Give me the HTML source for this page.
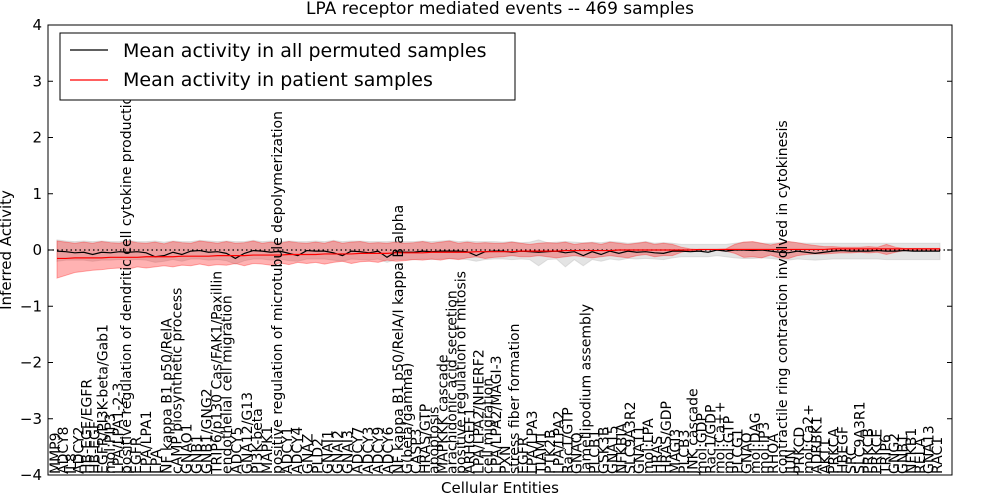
<!DOCTYPE html>
<html><head><meta charset="utf-8"><style>
body{margin:0;background:#fff;}
svg{display:block;font-family:"DejaVu Sans","Liberation Sans",sans-serif;}
</style></head><body>
<svg id="chart" width="1000" height="500" viewBox="0 0 1000 500" xmlns="http://www.w3.org/2000/svg">
<rect width="1000" height="500" fill="#fff"/>
<text x="500" y="14" font-size="17" text-anchor="middle">LPA receptor mediated events -- 469 samples</text>
<g id="plot"></g>
<text transform="translate(11,250) rotate(-90)" font-size="15" text-anchor="middle">Inferred Activity</text>
<text x="500" y="493" font-size="15" text-anchor="middle">Cellular Entities</text>
<g>
<rect x="60" y="33" width="455" height="67" fill="#fff" stroke="#000"/>
<line x1="70" y1="50" x2="108" y2="50" stroke="#000" stroke-width="1.2"/>
<text x="123" y="57" font-size="19">Mean activity in all permuted samples</text>
<line x1="70" y1="80" x2="108" y2="80" stroke="#f00" stroke-width="1.2"/>
<text x="123" y="86" font-size="19">Mean activity in patient samples</text>
</g>
</svg>
<script>
const labels=["MMP9","ADCY8","IL8","ADCY2","HB-EGF/EGFR","HB-EGF","EGFR/PI3K-beta/Gab1","mol:PIP3","LPA/LPA1-2-3","positive regulation of dendritic cell cytokine production","EGFR","LPA/LPA1","LPA","NF kappa B1 p50/RelA","cAMP biosynthetic process","GNAO1","GNB1","GNB1/GNG2","TRIP6/p130 Cas/FAK1/Paxillin","endothelial cell migration","ADCY5","GNA12/G13","PI3K-beta","MAPK1","positive regulation of microtubule depolymerization","ADCY1","ADCY4","GNAZ","PLD2","GNAI1","GNAI2","GNAI3","ADCY7","ADCY3","ADCY9","ADCY6","NF kappa B1 p50/RelA/I kappa B alpha","G(beta/gamma)","CASP3","HRAS/GTP","apoptosis","MAPKKK cascade","arachidonic acid secretion","positive regulation of mitosis","ARHGEF1","LPA/LPA2/NHERF2","cell migration","LPA/LPA2/MAGI-3","PXN","stress fiber formation","EGFR","LPA/LPA3","TIAM1","PTK2B","LPA/LPA2","Rac1/GTP","GNAQ","lamellipodium assembly","PLCB1","GSK3B","GNA15","NFKBIA","SLC9A3R2","GNA11","mol:LPA","HRAS","HRAS/GDP","MAGI3","PLCB3","JNK cascade","mol:GDP","Rac1/GDP","mol:Ca++","mol:GTP","PLCG1","GNAO","mol:DAG","mol:IP3","RHOA","contractile ring contraction involved in cytokinesis","JUN","PRKCD","mol:Ca2+","ADRBK1","AKT1","PRKCA","HBEGF","SRC","SLC9A3R1","PRKCB","PRKCE","TRIP6","GNG2","GNB1","NFKB1","RELA","GNA13","RAC1"];
const blackMean=[-0.02,-0.03,-0.05,-0.04,-0.08,-0.04,-0.05,-0.03,-0.04,-0.03,-0.05,-0.12,-0.1,-0.04,-0.08,-0.02,-0.01,-0.04,-0.03,-0.06,-0.15,-0.06,-0.01,-0.02,-0.04,-0.02,-0.06,-0.1,-0.01,-0.02,-0.02,-0.05,-0.1,-0.02,-0.03,-0.05,-0.02,-0.13,-0.03,-0.04,-0.04,-0.02,-0.03,-0.02,-0.02,-0.02,-0.03,-0.1,-0.03,-0.02,-0.02,-0.04,-0.02,-0.03,-0.04,-0.03,-0.02,-0.05,-0.03,-0.1,-0.03,-0.08,-0.02,-0.06,-0.02,-0.04,-0.03,-0.05,-0.06,-0.02,-0.02,-0.03,-0.02,-0.04,0.0,-0.02,0.0,0.0,-0.01,0.0,-0.02,-0.04,-0.05,-0.02,-0.04,-0.06,-0.04,-0.02,-0.01,-0.02,-0.02,-0.02,-0.01,-0.02,-0.02,-0.01,-0.02,-0.02,-0.02,-0.02];
const redMean=[-0.15,-0.15,-0.14,-0.14,-0.14,-0.14,-0.13,-0.13,-0.13,-0.13,-0.12,-0.12,-0.12,-0.12,-0.11,-0.11,-0.11,-0.11,-0.1,-0.1,-0.1,-0.1,-0.09,-0.09,-0.09,-0.09,-0.08,-0.08,-0.08,-0.08,-0.07,-0.07,-0.07,-0.07,-0.06,-0.06,-0.06,-0.06,-0.05,-0.05,-0.05,-0.05,-0.04,-0.04,-0.04,-0.04,-0.04,-0.03,-0.03,-0.03,-0.03,-0.03,-0.02,-0.02,-0.02,-0.02,-0.02,-0.01,-0.01,-0.01,-0.01,-0.01,-0.01,0.0,0.0,0.0,0.0,0.0,0.0,0.0,0.0,0.0,0.01,0.01,0.01,0.01,0.01,0.01,0.01,0.01,0.01,0.01,0.01,0.01,0.01,0.01,0.01,0.02,0.02,0.02,0.02,0.02,0.02,0.02,0.02,0.02,0.02,0.02,0.02,0.02];
const redHi=[0.16,0.14,0.12,0.14,0.12,0.15,0.13,0.12,0.16,0.13,0.12,0.14,0.11,0.15,0.13,0.12,0.16,0.14,0.12,0.15,0.12,0.13,0.16,0.12,0.14,0.12,0.15,0.13,0.12,0.14,0.12,0.16,0.12,0.14,0.15,0.12,0.13,0.12,0.14,0.12,0.13,0.15,0.12,0.14,0.16,0.12,0.14,0.12,0.13,0.12,0.12,0.14,0.12,0.1,0.12,0.13,0.12,0.14,0.1,0.12,0.13,0.1,0.14,0.12,0.1,0.12,0.14,0.1,0.12,0.1,0.05,0.02,0.01,0.01,0.01,0.02,0.1,0.14,0.15,0.12,0.09,0.12,0.15,0.13,0.1,0.08,0.06,0.06,0.05,0.05,0.05,0.06,0.05,0.1,0.05,0.03,0.03,0.03,0.03,0.03];
const redLo=[-0.5,-0.45,-0.4,-0.38,-0.36,-0.35,-0.33,-0.32,-0.34,-0.3,-0.32,-0.3,-0.28,-0.3,-0.27,-0.28,-0.25,-0.28,-0.26,-0.27,-0.24,-0.28,-0.24,-0.25,-0.27,-0.23,-0.26,-0.22,-0.24,-0.22,-0.25,-0.22,-0.2,-0.24,-0.21,-0.2,-0.22,-0.18,-0.2,-0.19,-0.17,-0.18,-0.16,-0.18,-0.15,-0.17,-0.14,-0.12,-0.15,-0.13,-0.12,-0.1,-0.12,-0.12,-0.1,-0.12,-0.14,-0.12,-0.1,-0.12,-0.14,-0.12,-0.1,-0.12,-0.14,-0.1,-0.08,-0.12,-0.1,-0.1,-0.04,-0.01,-0.01,0.0,-0.01,-0.02,-0.06,-0.13,-0.12,-0.14,-0.09,-0.14,-0.15,-0.1,-0.08,-0.07,-0.07,-0.06,-0.05,-0.05,-0.04,-0.05,-0.04,-0.08,-0.04,-0.01,-0.01,-0.01,-0.01,-0.01];
const greyHi=[0.18,0.16,0.15,0.16,0.15,0.16,0.15,0.15,0.17,0.15,0.15,0.16,0.14,0.16,0.15,0.15,0.17,0.16,0.15,0.16,0.15,0.15,0.17,0.15,0.16,0.15,0.16,0.15,0.15,0.16,0.15,0.17,0.15,0.16,0.16,0.15,0.15,0.15,0.16,0.15,0.15,0.16,0.15,0.16,0.17,0.15,0.16,0.15,0.15,0.15,0.14,0.15,0.13,0.14,0.18,0.13,0.14,0.15,0.14,0.13,0.14,0.13,0.15,0.14,0.12,0.13,0.15,0.12,0.13,0.12,0.1,0.1,0.1,0.1,0.1,0.1,0.12,0.14,0.14,0.12,0.12,0.13,0.15,0.13,0.12,0.12,0.12,0.12,0.12,0.12,0.12,0.12,0.12,0.12,0.12,0.12,0.12,0.12,0.12,0.12];
const greyLo=[-0.2,-0.18,-0.18,-0.18,-0.2,-0.18,-0.18,-0.17,-0.18,-0.17,-0.18,-0.22,-0.2,-0.17,-0.2,-0.16,-0.16,-0.18,-0.17,-0.19,-0.25,-0.19,-0.16,-0.16,-0.18,-0.16,-0.19,-0.2,-0.16,-0.16,-0.16,-0.18,-0.2,-0.16,-0.17,-0.18,-0.16,-0.22,-0.17,-0.17,-0.17,-0.16,-0.17,-0.16,-0.16,-0.16,-0.17,-0.2,-0.17,-0.16,-0.16,-0.17,-0.16,-0.17,-0.28,-0.17,-0.16,-0.3,-0.17,-0.28,-0.17,-0.2,-0.16,-0.18,-0.15,-0.16,-0.15,-0.16,-0.17,-0.14,-0.12,-0.12,-0.12,-0.12,-0.1,-0.12,-0.14,-0.15,-0.15,-0.14,-0.15,-0.17,-0.18,-0.16,-0.17,-0.18,-0.17,-0.16,-0.16,-0.16,-0.16,-0.16,-0.16,-0.17,-0.17,-0.17,-0.17,-0.17,-0.17,-0.17];
const yTicks=[4,3,2,1,0,-1,-2,-3,-4];

const NS="http://www.w3.org/2000/svg";
const L=48,R=952,T=25,B=475;
const yScale=v=>T+(4-v)/8*(B-T);
const xScale=i=>57+i*(940-57)/(blackMean.length-1);
// label layout anchors (index -> glyph centre px)
const anchorIdx=[0,9,24,36,79,97], anchorPx=[55,126,277,398,782,937];
function labelX(i){for(let k=0;k<anchorIdx.length-1;k++){if(i<=anchorIdx[k+1]){const a=anchorIdx[k],b=anchorIdx[k+1];return anchorPx[k]+(i-a)/(b-a)*(anchorPx[k+1]-anchorPx[k]);}}return anchorPx[anchorPx.length-1];}
const plot=document.getElementById('plot');
function mk(tag,attrs,parent){const e=document.createElementNS(NS,tag);for(const k in attrs)e.setAttribute(k,attrs[k]);(parent||plot).appendChild(e);return e;}
function band(hi,lo,fill,op){let d='M'+hi.map((v,i)=>xScale(i)+','+yScale(v)).join('L');for(let i=lo.length-1;i>=0;i--)d+='L'+xScale(i)+','+yScale(lo[i]);return mk('path',{d:d+'Z',fill:fill,'fill-opacity':op,stroke:fill,'stroke-opacity':op,'stroke-width':1});}
function line(arr,col){return mk('path',{d:'M'+arr.map((v,i)=>xScale(i)+','+yScale(v)).join('L'),fill:'none',stroke:col,'stroke-width':1.2});}

const gb=band(greyHi,greyLo,'#bbbbbb',0.4);


const rb=band(redHi,redLo,'#ff0000',0.3);


const zl=mk('line',{x1:L,x2:R,y1:yScale(0),y2:yScale(0),stroke:'#000','stroke-dasharray':'1.5,3','stroke-width':1.2});


const bl=line(blackMean,'#000');


const rl=line(redMean,'#ff0000');



labels.forEach((t,i)=>{const x=labelX(i)+5;
const e=mk('text',{transform:`translate(${x},${B-1}) rotate(-90)`,'font-size':14});e.textContent=t;

});

yTicks.forEach(v=>{const y=yScale(v);
mk('line',{x1:L,x2:L+5,y1:y,y2:y,stroke:'#000'});mk('line',{x1:R-5,x2:R,y1:y,y2:y,stroke:'#000'});
const e=mk('text',{x:L-6,y:y+5,'font-size':15,'text-anchor':'end'});e.textContent=(v<0?'\u2212'+(-v):v);

});

const fr=mk('rect',{x:L,y:T,width:R-L,height:B-T,fill:'none',stroke:'#000','stroke-width':1});


</script>
</body></html>
